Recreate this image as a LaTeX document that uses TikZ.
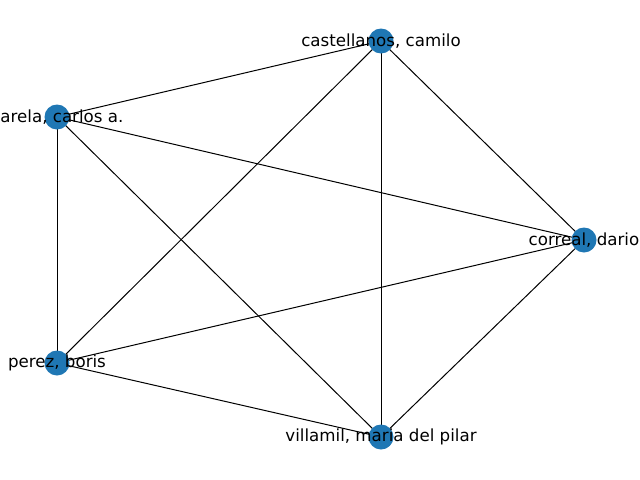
\documentclass[tikz,border=0pt]{standalone}
\usepackage{fontspec}
\setmainfont{DejaVu Sans}
\definecolor{nodeblue}{HTML}{1F77B4}
\begin{document}
\begin{tikzpicture}[x=0.72pt,y=-0.72pt,
  vert/.style={circle,fill=nodeblue,minimum size=18pt,inner sep=0pt},
  lbl/.style={font=\fontsize{12pt}{14pt}\selectfont,inner sep=0pt,text=black},
  edge/.style={draw=black,line width=0.72pt}]
\useasboundingbox (0,0) rectangle (640,480);
\coordinate (c) at (381,41);
\coordinate (v) at (57,117);
\coordinate (d) at (584,240);
\coordinate (p) at (57,363);
\coordinate (m) at (381,437);
\foreach \a/\b in {c/v,c/d,c/p,c/m,v/d,v/p,v/m,d/p,d/m,p/m}
  \draw[edge] (\a) -- (\b);
\foreach \n in {c,v,d,p,m}
  \node[vert] (n\n) at (\n) {};
\node[lbl] (lc) at (c) {castellanos, camilo};
\node[lbl] (lv) at (v) {varela, carlos a.};
\node[lbl] (ld) at (d) {correal, dario};
\node[lbl] (lp) at (p) {perez, boris};
\node[lbl] (lm) at (m) {villamil, maria del pilar};
\end{tikzpicture}
\end{document}
